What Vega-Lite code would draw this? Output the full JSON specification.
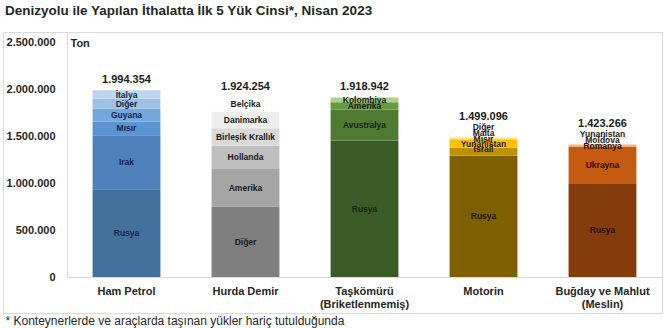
{
  "$schema": "https://vega.github.io/schema/vega-lite/v6.json",
  "width": 659,
  "height": 281,
  "autosize": "none",
  "padding": {"left": 3, "top": 32, "right": 8, "bottom": 15},
  "background": "white",
  "config": {
    "locale": {"number": {"decimal": ",", "thousands": ".", "grouping": [3], "currency": ["", " TL"]}},
    "view": {"stroke": "#d9d9d9", "strokeWidth": 1},
    "font": "Liberation Sans"
  },
  "title": {
    "text": "Denizyolu ile Yapılan İthalatta İlk 5 Yük Cinsi*, Nisan 2023",
    "anchor": "start",
    "frame": "group",
    "fontSize": 13.5,
    "fontWeight": "bold",
    "color": "#262626",
    "offset": 15,
    "dx": 2
  },
  "data": {
    "values": [
      {"product": "Ham Petrol", "country": "Rusya", "value": 938000, "rank": 1, "id": "HP Rusya"},
      {"product": "Ham Petrol", "country": "Irak", "value": 576000, "rank": 2, "id": "HP Irak"},
      {"product": "Ham Petrol", "country": "Mısır", "value": 148000, "rank": 3, "id": "HP Mısır"},
      {"product": "Ham Petrol", "country": "Guyana", "value": 135000, "rank": 4, "id": "HP Guyana"},
      {"product": "Ham Petrol", "country": "Diğer", "value": 108000, "rank": 5, "id": "HP Diğer"},
      {"product": "Ham Petrol", "country": "İtalya", "value": 89354, "rank": 6, "id": "HP İtalya"},
      {"product": "Hurda Demir", "country": "Diğer", "value": 752254, "rank": 1, "id": "HD Diğer"},
      {"product": "Hurda Demir", "country": "Amerika", "value": 402000, "rank": 2, "id": "HD Amerika"},
      {"product": "Hurda Demir", "country": "Hollanda", "value": 249000, "rank": 3, "id": "HD Hollanda"},
      {"product": "Hurda Demir", "country": "Birleşik Krallık", "value": 186000, "rank": 4, "id": "HD Birleşik Krallık"},
      {"product": "Hurda Demir", "country": "Danimarka", "value": 178000, "rank": 5, "id": "HD Danimarka"},
      {"product": "Hurda Demir", "country": "Belçika", "value": 157000, "rank": 6, "id": "HD Belçika"},
      {"product": "Taşkömürü (Briketlenmemiş)", "country": "Rusya", "value": 1458000, "rank": 1, "id": "TK Rusya"},
      {"product": "Taşkömürü (Briketlenmemiş)", "country": "Avustralya", "value": 330942, "rank": 2, "id": "TK Avustralya"},
      {"product": "Taşkömürü (Briketlenmemiş)", "country": "Amerika", "value": 78000, "rank": 3, "id": "TK Amerika"},
      {"product": "Taşkömürü (Briketlenmemiş)", "country": "Kolombiya", "value": 52000, "rank": 4, "id": "TK Kolombiya"},
      {"product": "Motorin", "country": "Rusya", "value": 1296000, "rank": 1, "id": "MO Rusya"},
      {"product": "Motorin", "country": "İsrail", "value": 85000, "rank": 2, "id": "MO İsrail"},
      {"product": "Motorin", "country": "Yunanistan", "value": 90000, "rank": 3, "id": "MO Yunanistan"},
      {"product": "Motorin", "country": "Mısır", "value": 12000, "rank": 4, "id": "MO Mısır"},
      {"product": "Motorin", "country": "Malta", "value": 9000, "rank": 5, "id": "MO Malta"},
      {"product": "Motorin", "country": "Diğer", "value": 7096, "rank": 6, "id": "MO Diğer"},
      {"product": "Buğday ve Mahlut (Meslin)", "country": "Rusya", "value": 994000, "rank": 1, "id": "BM Rusya"},
      {"product": "Buğday ve Mahlut (Meslin)", "country": "Ukrayna", "value": 395000, "rank": 2, "id": "BM Ukrayna"},
      {"product": "Buğday ve Mahlut (Meslin)", "country": "Romanya", "value": 20000, "rank": 3, "id": "BM Romanya"},
      {"product": "Buğday ve Mahlut (Meslin)", "country": "Moldova", "value": 8000, "rank": 4, "id": "BM Moldova"},
      {"product": "Buğday ve Mahlut (Meslin)", "country": "Yunanistan", "value": 6266, "rank": 5, "id": "BM Yunanistan"}
    ]
  },
  "transform": [
    {"stack": "value", "groupby": ["product"], "sort": [{"field": "rank", "order": "ascending"}], "as": ["lo", "hi"]},
    {"calculate": "(datum.lo + datum.hi) / 2", "as": "mid"}
  ],
  "encoding": {
    "x": {
      "field": "product",
      "type": "nominal",
      "sort": null,
      "scale": {"range": [64, 659], "paddingInner": 0.43, "paddingOuter": 0.215},
      "axis": {
        "title": "* Konteynerlerde ve araçlarda taşınan yükler hariç tutulduğunda",
        "offset": -36,
        "ticks": false,
        "domainColor": "#d9d9d9",
        "labelAngle": 0,
        "labelPadding": 8,
        "labelFontSize": 11,
        "labelFontWeight": "bold",
        "labelColor": "#262626",
        "labelLineHeight": 13,
        "labelExpr": "indexof(datum.label, '(') > 0 ? [substring(datum.label, 0, indexof(datum.label, '(') - 1), substring(datum.label, indexof(datum.label, '('))] : datum.label",
        "titleX": 2,
        "titleY": 43,
        "titleAlign": "left",
        "titleAnchor": "start",
        "titleBaseline": "middle",
        "titleFontSize": 12,
        "titleFontWeight": "normal",
        "titleColor": "#262626"
      }
    }
  },
  "layer": [
    {
      "mark": {"type": "bar"},
      "encoding": {
        "y": {
          "field": "lo",
          "type": "quantitative",
          "title": "Ton",
          "scale": {"domain": [0, 2617500], "range": [245, 0], "nice": false, "zero": true},
          "axis": {
            "values": [0, 500000, 1000000, 1500000, 2000000, 2500000],
            "format": ",d",
            "offset": -64,
            "ticks": false,
            "grid": false,
            "domain": true,
            "domainColor": "#d9d9d9",
            "labelPadding": 12,
            "labelFontSize": 11,
            "labelFontWeight": "bold",
            "labelColor": "#262626",
            "titleAngle": 0,
            "titleX": 3,
            "titleY": 11,
            "titleAlign": "left",
            "titleBaseline": "middle",
            "titleFontSize": 11,
            "titleFontWeight": "bold",
            "titleColor": "#262626"
          }
        },
        "y2": {"field": "hi"},
        "color": {
          "field": "id",
          "type": "nominal",
          "legend": null,
          "scale": {
            "domain": ["HP Rusya", "HP Irak", "HP Mısır", "HP Guyana", "HP Diğer", "HP İtalya",
                       "HD Diğer", "HD Amerika", "HD Hollanda", "HD Birleşik Krallık", "HD Danimarka", "HD Belçika",
                       "TK Rusya", "TK Avustralya", "TK Amerika", "TK Kolombiya",
                       "MO Rusya", "MO İsrail", "MO Yunanistan", "MO Mısır", "MO Malta", "MO Diğer",
                       "BM Rusya", "BM Ukrayna", "BM Romanya", "BM Moldova", "BM Yunanistan"],
            "range": ["#44709d", "#4f81bd", "#5b93d0", "#74a7dc", "#9cc2e5", "#bdd5ee",
                      "#7f7f7f", "#a5a5a5", "#bfbfbf", "#d9d9d9", "#ededed", "#ffffff",
                      "#3a5b27", "#4e7a31", "#64993f", "#a9d18e",
                      "#7f6000", "#bf9000", "#ffc000", "#ffd966", "#ffe699", "#fff2cc",
                      "#843c0c", "#c55a11", "#f4b183", "#f8cbad", "#fbe5d6"]
          }
        }
      }
    },
    {
      "transform": [{"filter": {"not": {"field": "id", "oneOf": ["MO Diğer", "BM Yunanistan", "MO Malta", "BM Moldova", "MO İsrail"]}}}],
      "mark": {"type": "text", "fontSize": 8.5, "fontWeight": "bold", "baseline": "middle"},
      "encoding": {
        "y": {"field": "mid", "type": "quantitative", "title": "Ton"},
        "text": {"field": "country"},
        "color": {
          "field": "product",
          "type": "nominal",
          "legend": null,
          "scale": {
            "domain": ["Ham Petrol", "Hurda Demir", "Taşkömürü (Briketlenmemiş)", "Motorin", "Buğday ve Mahlut (Meslin)"],
            "range": ["#14264a", "#1a1a1a", "#1a2410", "#1a1a1a", "#2a1005"]
          }
        }
      }
    },
    {
      "transform": [{"filter": {"field": "id", "oneOf": ["MO Diğer", "BM Yunanistan"]}}],
      "mark": {"type": "text", "fontSize": 8.5, "fontWeight": "bold", "baseline": "middle", "dy": -10, "color": "#1a1a1a"},
      "encoding": {
        "y": {"field": "mid", "type": "quantitative", "title": "Ton"},
        "text": {"field": "country"}
      }
    },
    {
      "transform": [{"filter": {"field": "id", "oneOf": ["MO Malta", "BM Moldova"]}}],
      "mark": {"type": "text", "fontSize": 8.5, "fontWeight": "bold", "baseline": "middle", "dy": -5, "color": "#1a1a1a"},
      "encoding": {
        "y": {"field": "mid", "type": "quantitative", "title": "Ton"},
        "text": {"field": "country"}
      }
    },
    {
      "transform": [{"filter": {"field": "id", "oneOf": ["MO İsrail"]}}],
      "mark": {"type": "text", "fontSize": 8.5, "fontWeight": "bold", "baseline": "middle", "dy": -3, "color": "#1a1a1a"},
      "encoding": {
        "y": {"field": "mid", "type": "quantitative", "title": "Ton"},
        "text": {"field": "country"}
      }
    },
    {
      "transform": [{"filter": {"not": {"field": "product", "oneOf": ["Motorin", "Buğday ve Mahlut (Meslin)"]}}}],
      "mark": {"type": "text", "fontSize": 11, "fontWeight": "bold", "baseline": "middle", "dy": -10, "color": "#1a1a1a"},
      "encoding": {
        "y": {"aggregate": "sum", "field": "value", "type": "quantitative", "title": "Ton"},
        "text": {"aggregate": "sum", "field": "value", "type": "quantitative", "format": ",d"}
      }
    },
    {
      "transform": [{"filter": {"field": "product", "oneOf": ["Motorin", "Buğday ve Mahlut (Meslin)"]}}],
      "mark": {"type": "text", "fontSize": 11, "fontWeight": "bold", "baseline": "middle", "dy": -20, "color": "#1a1a1a"},
      "encoding": {
        "y": {"aggregate": "sum", "field": "value", "type": "quantitative", "title": "Ton"},
        "text": {"aggregate": "sum", "field": "value", "type": "quantitative", "format": ",d"}
      }
    }
  ],
  "resolve": {"scale": {"color": "independent"}}
}
